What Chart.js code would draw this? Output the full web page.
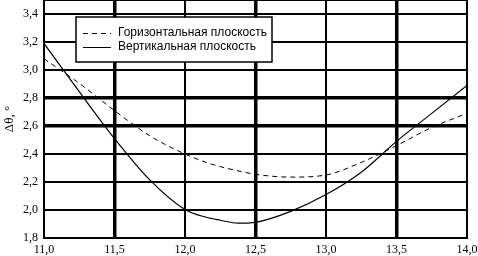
<!DOCTYPE html>
<html>
<head>
<meta charset="utf-8">
<script src="https://cdn.jsdelivr.net/npm/chart.js@4"></script>
<style>
  html, body { margin: 0; padding: 0; background: #fff; }
</style>
</head>
<body>
<canvas id="chart" width="478" height="256"></canvas>
<script>
// данные
const xValues = [11.0, 11.25, 11.5, 11.75, 12.0, 12.15, 12.25, 12.375, 12.5, 12.75, 13.0, 13.25, 13.5, 13.75, 14.0];
const horizontalPlane = [3.08, 2.905, 2.71, 2.53, 2.40, 2.34, 2.31, 2.28, 2.255, 2.235, 2.25, 2.34, 2.46, 2.59, 2.69];
const verticalPlane = [3.19, 2.845, 2.51, 2.215, 2.003, 1.948, 1.927, 1.906, 1.912, 1.99, 2.11, 2.27, 2.49, 2.69, 2.89];
const seriesLabels = ["Горизонтальная плоскость", "Вертикальная плоскость"];
const xTicks = [11.0, 11.5, 12.0, 12.5, 13.0, 13.5, 14.0];
const yTicks = [1.8, 2.0, 2.2, 2.4, 2.6, 2.8, 3.0, 3.2, 3.4];
const thickX = [11.5, 12.5, 13.5];
const thickY = [2.6, 2.8];

const fmt = (v) => v.toFixed(1).replace(".", ",");

// рамка вокруг области графика
const framePlugin = {
  id: "frame",
  beforeDatasetsDraw(chart) {
    const { ctx, chartArea: a } = chart;
    ctx.save();
    ctx.strokeStyle = "#000";
    ctx.lineWidth = 2;
    ctx.strokeRect(a.left, a.top, a.right - a.left, a.bottom - a.top);
    ctx.restore();
  },
};

// легенда в рамке внутри графика
const legendBoxPlugin = {
  id: "legendBox",
  afterDatasetsDraw(chart) {
    const ctx = chart.ctx;
    const box = { x: 76, y: 17, w: 196, h: 45 };
    ctx.save();
    ctx.fillStyle = "#fff";
    ctx.fillRect(box.x, box.y, box.w, box.h);
    ctx.strokeStyle = "#000";
    ctx.lineWidth = 1.5;
    ctx.strokeRect(box.x, box.y, box.w, box.h);
    ctx.font = "12px 'Liberation Sans', Arial, sans-serif";
    ctx.textBaseline = "middle";
    ctx.fillStyle = "#000";
    chart.data.datasets.forEach((ds, i) => {
      const y = box.y + 16 + i * 14;
      ctx.beginPath();
      ctx.setLineDash(ds.borderDash || []);
      ctx.lineWidth = 1;
      ctx.moveTo(box.x + 7, y + 0.5);
      ctx.lineTo(box.x + 35, y + 0.5);
      ctx.stroke();
      ctx.setLineDash([]);
      ctx.fillText(ds.label, box.x + 42, y);
    });
    ctx.restore();
  },
};

const tickFont = { family: "'Liberation Serif', 'Times New Roman', serif", size: 12 };

new Chart(document.getElementById("chart"), {
  type: "line",
  data: {
    datasets: [
      {
        label: seriesLabels[0],
        data: xValues.map((x, i) => ({ x: x, y: horizontalPlane[i] })),
        borderColor: "#000",
        borderWidth: 1,
        borderDash: [5, 4],
        pointRadius: 0,
        cubicInterpolationMode: "monotone",
      },
      {
        label: seriesLabels[1],
        data: xValues.map((x, i) => ({ x: x, y: verticalPlane[i] })),
        borderColor: "#000",
        borderWidth: 1.2,
        pointRadius: 0,
        cubicInterpolationMode: "monotone",
      },
    ],
  },
  options: {
    responsive: false,
    animation: false,
    layout: { padding: { top: 0, right: 11, left: 0, bottom: 0 } },
    plugins: { legend: { display: false }, tooltip: { enabled: false } },
    scales: {
      x: {
        type: "linear",
        min: 11,
        max: 14,
        afterBuildTicks: (s) => { s.ticks = xTicks.map((v) => ({ value: v })); },
        afterFit: (s) => { s.height = 18; s.paddingLeft = 0; s.paddingRight = 0; },
        border: { display: false },
        grid: {
          color: "#000",
          drawTicks: false,
          lineWidth: (c) => (c.tick && thickX.includes(c.tick.value) ? 3.5 : 2),
        },
        ticks: { color: "#000", font: tickFont, padding: 5, maxRotation: 0, callback: (v) => fmt(v) },
      },
      y: {
        min: 1.8,
        max: 3.5,
        afterBuildTicks: (s) => { s.ticks = yTicks.map((v) => ({ value: v })); },
        afterFit: (s) => { s.width = 44; s.paddingTop = 0; },
        border: { display: false },
        grid: {
          color: "#000",
          drawTicks: false,
          lineWidth: (c) => (c.tick && thickY.includes(c.tick.value) ? 3.5 : 2),
        },
        ticks: { color: "#000", font: tickFont, padding: 6, callback: (v) => fmt(v) },
        title: {
          display: true,
          text: "Δθ, °",
          color: "#000",
          font: { family: "'Liberation Serif', 'Times New Roman', serif", size: 13 },
          padding: { top: 2, bottom: 0 },
        },
      },
    },
  },
  plugins: [framePlugin, legendBoxPlugin],
});
</script>
</body>
</html>
